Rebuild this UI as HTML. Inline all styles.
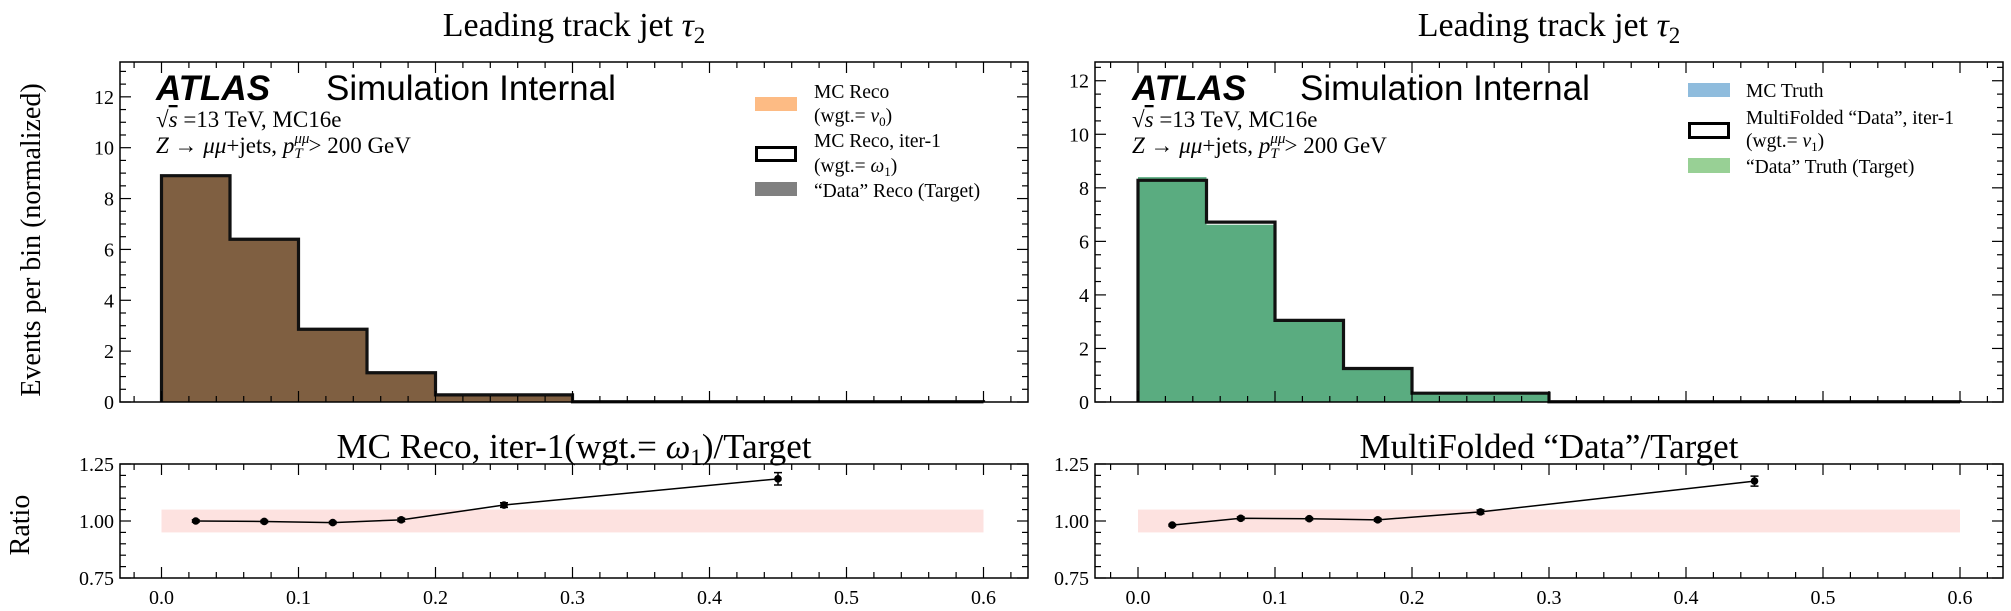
<!DOCTYPE html>
<html><head><meta charset="utf-8"><style>
body{margin:0;background:#fff}
svg{display:block}
text{font-family:"Liberation Serif","DejaVu Serif",serif;fill:#000}
.sans{font-family:"Liberation Sans","DejaVu Sans",sans-serif}
</style></head><body>
<svg id="fig" width="2011" height="611" viewBox="0 0 2011 611" xmlns="http://www.w3.org/2000/svg"></svg>
<script>
// ---- data ----
const binEdges = [0, 0.05, 0.1, 0.15, 0.2, 0.3, 0.6];
const leftFill = [8.85, 6.37, 2.84, 1.13, 0.27, 0.01];
const leftStep = [8.9, 6.4, 2.86, 1.15, 0.28, 0.01];
const rightFill = [8.4, 6.62, 3.0, 1.22, 0.31, 0.01];
const rightStep = [8.28, 6.72, 3.05, 1.25, 0.33, 0.01];
const ratioX = [0.025, 0.075, 0.125, 0.175, 0.25, 0.45];
const leftRatio = [1.0, 0.998, 0.993, 1.005, 1.07, 1.185];
const leftRatioErr = [0.005, 0.005, 0.005, 0.007, 0.01, 0.027];
const rightRatio = [0.982, 1.012, 1.01, 1.005, 1.04, 1.175];
const rightRatioErr = [0.004, 0.006, 0.005, 0.006, 0.008, 0.022];
const xTickLabels = ["0.0","0.1","0.2","0.3","0.4","0.5","0.6"];
const yTickLabels = ["0","2","4","6","8","10","12"];
const rTickLabels = ["0.75","1.00","1.25"];

const NS = "http://www.w3.org/2000/svg";
const svg = document.getElementById('fig');
function mk(tag, attrs, parent, txt){
  const e = document.createElementNS(NS, tag);
  for (const k in attrs) e.setAttribute(k, attrs[k]);
  if (txt !== undefined) e.textContent = txt;
  (parent || svg).appendChild(e);
  return e;
}

function panel(cfg){
  const g = mk('g', {});
  
  
  const L = cfg.left, R = cfg.right, x0px = cfg.x0;
  const xs = v => x0px + v * 1370;
  const T = 62, B = 402;
  const ys = v => B - v * (B - T) / cfg.ymax;
  const RT = 464, RB = 578;
  const rs = v => RB - (v - 0.75) * (RB - RT) / 0.5;

  const t = mk('text', {x:(L+R)/2, y:36, 'font-size':34, 'text-anchor':'middle'}, g);
   
  t.innerHTML = 'Leading track jet <tspan font-style="italic">τ</tspan><tspan font-size="23" dy="7">2</tspan>';

  let d = `M${xs(binEdges[0])},${ys(0)}`;
  cfg.fill.forEach((v,i)=>{ d += ` L${xs(binEdges[i])},${ys(v)} L${xs(binEdges[i+1])},${ys(v)}`; });
  d += ` L${xs(binEdges[binEdges.length-1])},${ys(0)} Z`;
  const f = mk('path', {d, fill:cfg.fillColor}, g);
   
  let s = `M${xs(binEdges[0])},${ys(0)}`;
  cfg.step.forEach((v,i)=>{ s += ` L${xs(binEdges[i])},${ys(v)} L${xs(binEdges[i+1])},${ys(v)}`; });
  s += ` L${xs(binEdges[binEdges.length-1])},${ys(0)}`;
  const st = mk('path', {d:s, fill:'none', stroke:'#111', 'stroke-width':3.2}, g);
   

  const fr = mk('rect', {x:L, y:T, width:R-L, height:B-T, fill:'none', stroke:'#000', 'stroke-width':1.5}, g);
   
  const fr2 = mk('rect', {x:L, y:RT, width:R-L, height:RB-RT, fill:'none', stroke:'#000', 'stroke-width':1.5}, g);
   

  for (let k = -1; k <= 31; k++){
    const v = k * 0.02; const px = xs(v);
    if (px < L || px > R) continue;
    const major = (k % 5 === 0);
    const len = major ? 11 : 6;
    [[T,B],[RT,RB]].forEach(([a,b])=>{
      mk('line',{x1:px,y1:b,x2:px,y2:b-len,stroke:'#000','stroke-width':1.2},g);
      mk('line',{x1:px,y1:a,x2:px,y2:a+len,stroke:'#000','stroke-width':1.2},g);
    });
  }
  xTickLabels.forEach((lab,i)=>{
    const tl = mk('text',{x:xs(i*0.1), y:604, 'font-size':20, 'text-anchor':'middle'}, g, lab);
     
  });
  for (let k = 0; k*0.5 <= cfg.ymax; k++){
    const v = k*0.5, py = ys(v); const major = (k%4===0); const len = major?11:6;
    mk('line',{x1:L,y1:py,x2:L+len,y2:py,stroke:'#000','stroke-width':1.2},g);
    mk('line',{x1:R,y1:py,x2:R-len,y2:py,stroke:'#000','stroke-width':1.2},g);
  }
  yTickLabels.forEach((lab,i)=>{
    const tl = mk('text',{x:L-6, y:ys(i*2)+7, 'font-size':20, 'text-anchor':'end'}, g, lab);
     
  });
  for (let k = 0; k <= 10; k++){
    const v = 0.75 + k*0.05, py = rs(v); const major = (k%5===0); const len = major?11:6;
    mk('line',{x1:L,y1:py,x2:L+len,y2:py,stroke:'#000','stroke-width':1.2},g);
    mk('line',{x1:R,y1:py,x2:R-len,y2:py,stroke:'#000','stroke-width':1.2},g);
  }
  rTickLabels.forEach((lab,i)=>{
    const tl = mk('text',{x:L-6, y:rs(0.75+i*0.25)+7, 'font-size':20, 'text-anchor':'end'}, g, lab);
     
  });

  const band = mk('rect',{x:xs(0), y:rs(1.05), width:xs(0.6)-xs(0), height:rs(0.95)-rs(1.05), fill:'#fde2e0'}, g);
   
  const pts = ratioX.map((x,i)=>`${xs(x)},${rs(cfg.ratio[i])}`).join(' ');
  const pl = mk('polyline',{points:pts, fill:'none', stroke:'#000','stroke-width':1.5}, g);
   
  ratioX.forEach((x,i)=>{
    const px = xs(x), py = rs(cfg.ratio[i]), e = cfg.err[i];
    const eb = mk('path',{d:`M${px},${rs(cfg.ratio[i]+e)} V${rs(cfg.ratio[i]-e)} M${px-4},${rs(cfg.ratio[i]+e)} h8 M${px-4},${rs(cfg.ratio[i]-e)} h8`, stroke:'#000','stroke-width':1.5, fill:'none'}, g);
     
    const c = mk('circle',{cx:px, cy:py, r:3.8, fill:'#000'}, g);
     
  });
  const rt = mk('text',{x:(L+R)/2, y:458, 'font-size':35, 'text-anchor':'middle'}, g);
   
  rt.innerHTML = cfg.ratioTitle;

  const at = mk('text',{x:cfg.atlasX, y:100, 'font-size':35, 'font-weight':'bold', 'font-style':'italic', class:'sans'}, g, 'ATLAS');
   
  const si = mk('text',{x:cfg.simX, y:100, 'font-size':35, class:'sans'}, g, 'Simulation Internal');
   
  const l1 = mk('text',{x:cfg.atlasX, y:127, 'font-size':23}, g);
   
  l1.innerHTML = '√<tspan font-style="italic" text-decoration="overline">s</tspan> =13 TeV, MC16e';
  const l2 = mk('text',{x:cfg.atlasX, y:153, 'font-size':23}, g);
   
  l2.innerHTML = '<tspan font-style="italic">Z</tspan> → <tspan font-style="italic">μμ</tspan>+jets, <tspan font-style="italic">p</tspan><tspan font-size="15" dy="-10" font-style="italic">μμ</tspan><tspan font-size="15" dy="15" dx="-15" font-style="italic">T</tspan><tspan dy="-5"> &gt; 200 GeV</tspan>';

  cfg.legend.forEach(it=>{
    let sw;
    if (it.box) sw = mk('rect',{x:cfg.lx+1.5, y:it.sy+1.5, width:39, height:it.sh-3, fill:'none', stroke:'#000','stroke-width':3}, g);
    else sw = mk('rect',{x:cfg.lx, y:it.sy, width:42, height:it.sh, fill:it.color}, g);
     
    it.lines.forEach((ln,j)=>{
      const tx = mk('text',{x:cfg.lx+cfg.tdx, y:it.ty[j], 'font-size':19.5}, g);
       
      tx.innerHTML = ln;
    });
  });
}

panel({name:'left-panel', left:120, right:1028, x0:161.5, ymax:13.37,
  fill:leftFill, step:leftStep, fillColor:'#7f5f41', ratio:leftRatio, err:leftRatioErr,
  ratioTitle:'MC Reco, iter-1(wgt.= <tspan font-style="italic">ω</tspan><tspan font-size="23" dy="7">1</tspan><tspan dy="-7">)/Target</tspan>',
  atlasX:156, simX:326, lx:755, tdx:59,
  legend:[
    {color:'#fdbb84', sy:97, sh:14, lines:['MC Reco','(wgt.= <tspan font-style="italic">ν</tspan><tspan font-size="13" dy="4">0</tspan><tspan dy="-4">)</tspan>'], ty:[98,122]},
    {box:true, sy:146, sh:16, lines:['MC Reco, iter-1','(wgt.= <tspan font-style="italic">ω</tspan><tspan font-size="13" dy="4">1</tspan><tspan dy="-4">)</tspan>'], ty:[147,172]},
    {color:'#808080', sy:182, sh:14, lines:['“Data” Reco (Target)'], ty:[197]}
  ]});
panel({name:'right-panel', left:1095, right:2003, x0:1138, ymax:12.7,
  fill:rightFill, step:rightStep, fillColor:'#5aac80', ratio:rightRatio, err:rightRatioErr,
  ratioTitle:'MultiFolded “Data”/Target',
  atlasX:1132, simX:1300, lx:1688, tdx:58,
  legend:[
    {color:'#8fbcdd', sy:83, sh:14, lines:['MC Truth'], ty:[97]},
    {box:true, sy:122, sh:17, lines:['MultiFolded “Data”, iter-1','(wgt.= <tspan font-style="italic">ν</tspan><tspan font-size="13" dy="4">1</tspan><tspan dy="-4">)</tspan>'], ty:[124,147]},
    {color:'#98d095', sy:158, sh:15, lines:['“Data” Truth (Target)'], ty:[173]}
  ]});

const yl = mk('text',{x:0,y:0,'font-size':28,'text-anchor':'middle',transform:'translate(40,240) rotate(-90)'}, svg, 'Events per bin (normalized)');
 
const rl = mk('text',{x:0,y:0,'font-size':28,'text-anchor':'middle',transform:'translate(29,525) rotate(-90)'}, svg, 'Ratio');
 
</script>
</body></html>
